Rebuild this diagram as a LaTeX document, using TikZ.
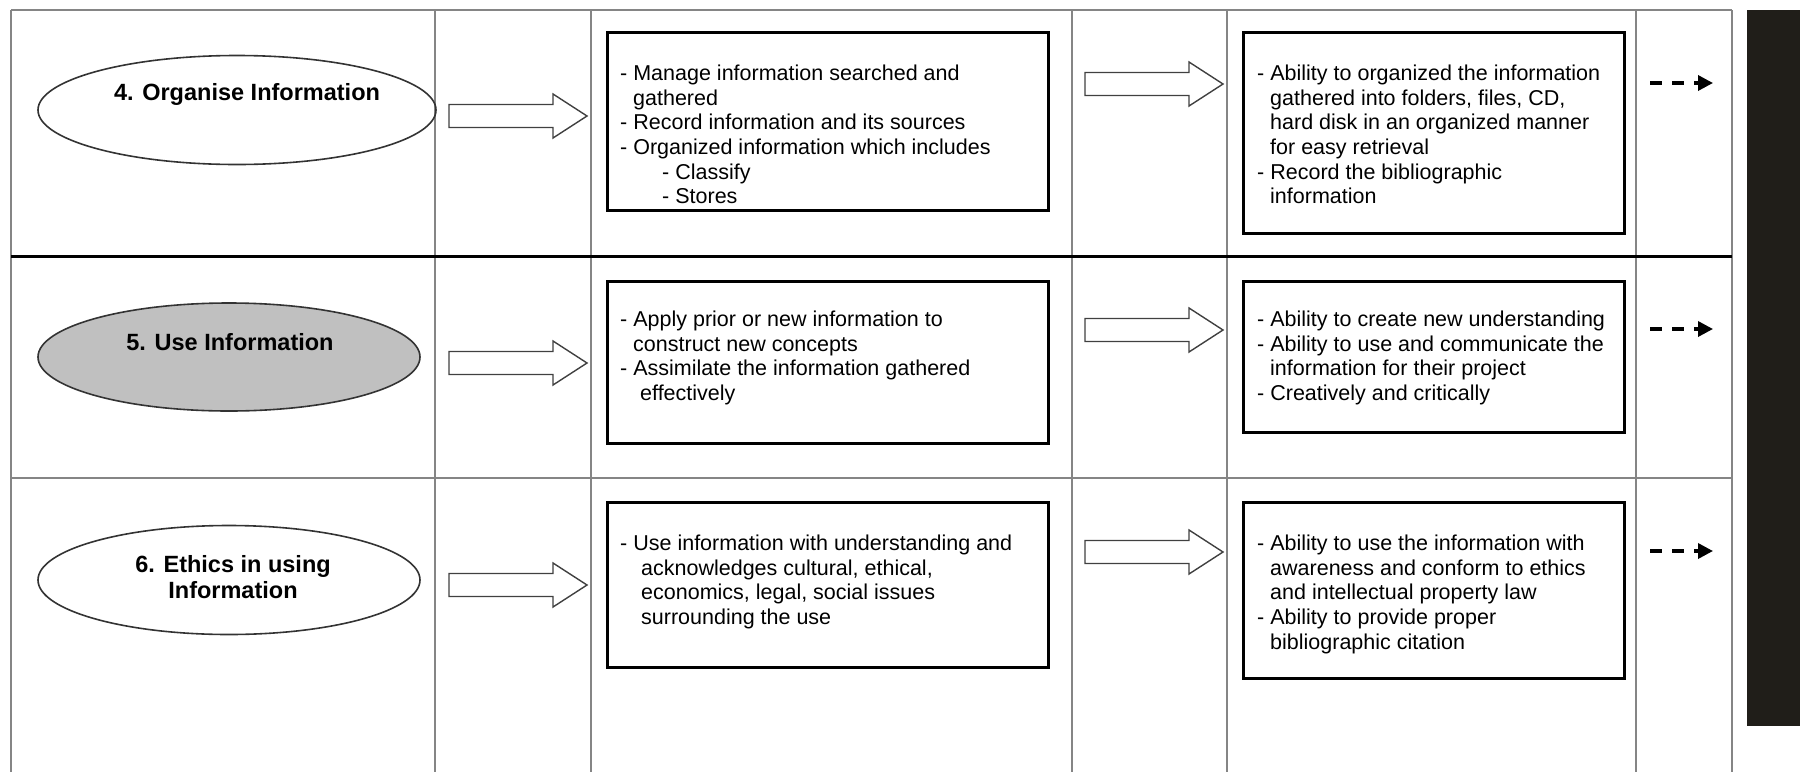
\documentclass[tikz,border=0pt]{standalone}
\usepackage{fontspec}
\setmainfont{Liberation Sans}
\usetikzlibrary{shapes.geometric,arrows.meta}
\definecolor{gridgray}{HTML}{858585}
\definecolor{ellgray}{HTML}{C0C0C0}
\definecolor{darkbar}{HTML}{201E19}
\newcommand{\myind}[1]{\hspace*{#1pt}}
\tikzset{
  grid/.style={draw=gridgray,line width=1.3pt},
  thickrule/.style={draw=black,line width=3pt},
  stepellipse/.style={ellipse,draw=black!80,line width=1.6pt,inner sep=0pt},
  ellabel/.style={font=\fontsize{23.5}{26.5}\selectfont\bfseries,align=center,inner sep=0pt},
  txtbox/.style={draw=black,line width=3pt,inner sep=0pt},
  boxtext/.style={font=\fontsize{21.5}{24.6}\selectfont,align=left,anchor=north west,inner sep=0pt},
  barrowline/.style={draw=black!75,line width=1.4pt,fill=white},
  barrow/.pic={\path[barrowline] (0,-11.5) -- (104,-11.5) -- (104,-22) -- (138,0) -- (104,22) -- (104,11.5) -- (0,11.5) -- cycle;},
  dasharrow/.style={draw=black,line width=3.4pt,dash pattern=on 12pt off 10pt,-{Triangle[length=15pt,width=15pt]}}
}
\begin{document}
\begin{tikzpicture}[x=1pt,y=-1pt]
\useasboundingbox (0,0) rectangle (1800,772);
% grid
\draw[grid] (11,10) -- (1732,10);
\foreach \xx in {11,435,591,1072,1227,1636,1732}{\draw[grid] (\xx,10) -- (\xx,772);}
\draw[grid] (11,478) -- (1732,478);
\draw[thickrule] (11,256) -- (1732,256);
% dark bar
\node[fill=darkbar,inner sep=0pt,minimum width=53pt,minimum height=716pt,anchor=north west] (bar) at (1747,10) {};
% ellipses
\node[stepellipse,minimum width=398pt,minimum height=109pt] (e4) at (237,110) {};
\node[ellabel] (t4) at (247,94) {4. Organise Information};
\node[stepellipse,fill=ellgray,minimum width=382pt,minimum height=108pt] (e5) at (229,357) {};
\node[ellabel] (t5) at (230,342) {5. Use Information};
\node[stepellipse,minimum width=382pt,minimum height=109pt] (e6) at (229,580) {};
\node[ellabel] (t6) at (233,577) {6. Ethics in using\\Information};
% block arrows
\pic at (449,116) {barrow};
\pic at (1085,84) {barrow};
\pic at (449,363) {barrow};
\pic at (1085,330) {barrow};
\pic at (449,585) {barrow};
\pic at (1085,552) {barrow};
% boxes
\draw[txtbox] (607,32) rectangle (1048,210);
\draw[txtbox] (1243,32) rectangle (1624,233);
\draw[txtbox] (607,281) rectangle (1048,443);
\draw[txtbox] (1243,281) rectangle (1624,432);
\draw[txtbox] (607,502) rectangle (1048,667);
\draw[txtbox] (1243,502) rectangle (1624,678);
% texts
\node[boxtext] (m4) at (620,65) {- Manage information searched and\\\myind{13}gathered\\- Record information and its sources\\- Organized information which includes\\\myind{42}- Classify\\\myind{42}- Stores};
\node[boxtext] (r4) at (1257,65) {- Ability to organized the information\\\myind{13}gathered into folders, files, CD,\\\myind{13}hard disk in an organized manner\\\myind{13}for easy retrieval\\- Record the bibliographic\\\myind{13}information};
\node[boxtext] (m5) at (620,311) {- Apply prior or new information to\\\myind{13}construct new concepts\\- Assimilate the information gathered\\\myind{20}effectively};
\node[boxtext] (r5) at (1257,311) {- Ability to create new understanding\\- Ability to use and communicate the\\\myind{13}information for their project\\- Creatively and critically};
\node[boxtext] (m6) at (620,535) {- Use information with understanding and\\\myind{21}acknowledges cultural, ethical,\\\myind{21}economics, legal, social issues\\\myind{21}surrounding the use};
\node[boxtext] (r6) at (1257,535) {- Ability to use the information with\\\myind{13}awareness and conform to ethics\\\myind{13}and intellectual property law\\- Ability to provide proper\\\myind{13}bibliographic citation};
% dashed arrows
\coordinate (d4s) at (1650,83); \coordinate (d4e) at (1713,83);
\coordinate (d5s) at (1650,329); \coordinate (d5e) at (1713,329);
\coordinate (d6s) at (1650,551); \coordinate (d6e) at (1713,551);
\draw[dasharrow] (d4s) -- (d4e);
\draw[dasharrow] (d5s) -- (d5e);
\draw[dasharrow] (d6s) -- (d6e);
\end{tikzpicture}
\end{document}
